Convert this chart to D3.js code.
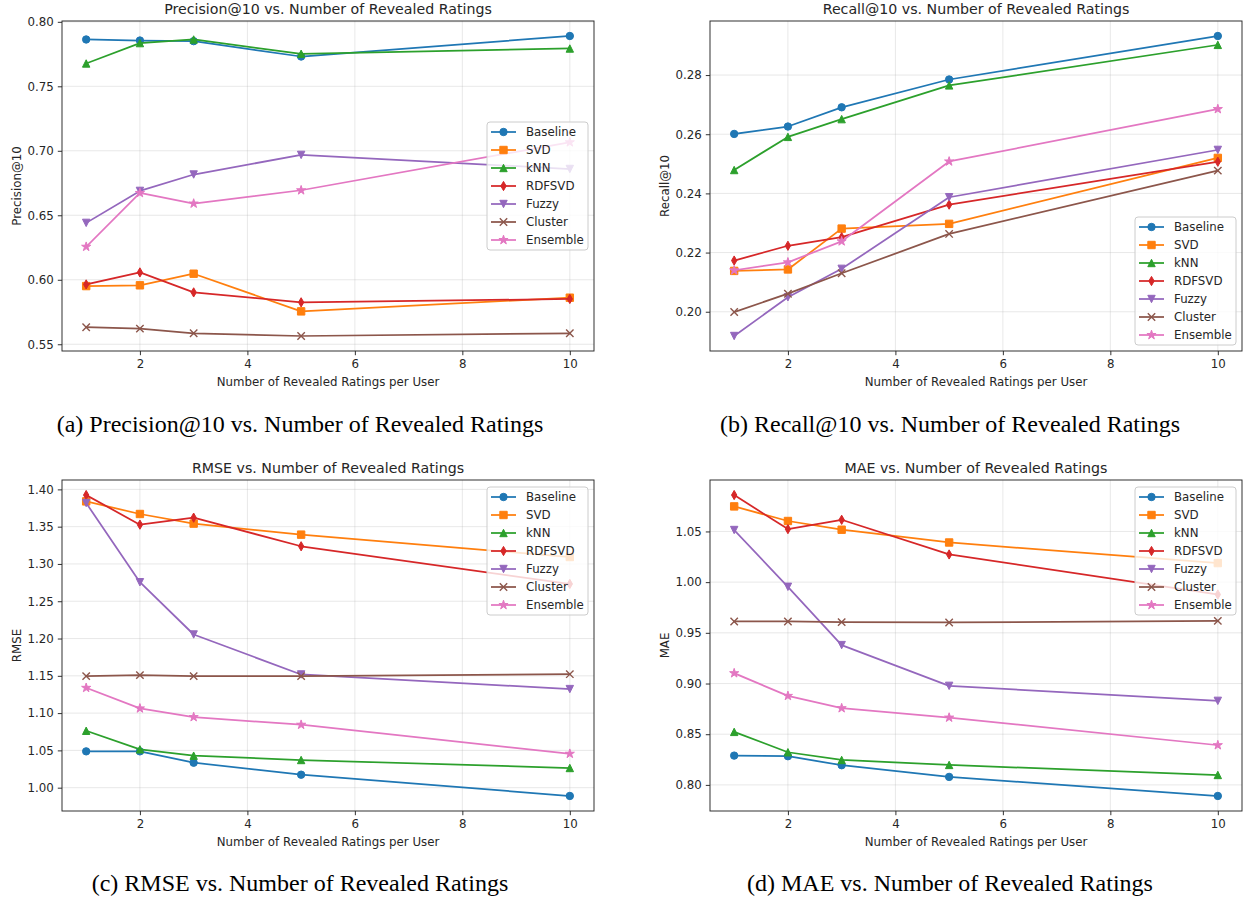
<!DOCTYPE html>
<html>
<head>
<meta charset="utf-8">
<script src="https://cdn.jsdelivr.net/npm/d3@7"></script>
<style>
  body { margin: 0; background: #fff; }
  svg { display: block; }
  text { font-family: "DejaVu Sans", sans-serif; fill: #262626; }
  .caption { font-family: "Liberation Serif", "Times New Roman", serif; fill: #000; }
</style>
</head>
<body>
<svg width="1248" height="898"></svg>
<script>
// data
const revealed = [1, 2, 3, 5, 10];
const methods = ["Baseline", "SVD", "kNN", "RDFSVD", "Fuzzy", "Cluster", "Ensemble"];
const colors = ["#1f77b4", "#ff7f0e", "#2ca02c", "#d62728", "#9467bd", "#8c564b", "#e377c2"];
const markers = ["circle", "square", "triUp", "thinDiamond", "triDown", "x", "star"];

// one row per method, same order as `methods`
const precisionValues = [
  [0.7863, 0.7855, 0.7850, 0.7731, 0.7890],
  [0.5951, 0.5957, 0.6047, 0.5755, 0.5861],
  [0.7677, 0.7835, 0.7863, 0.7752, 0.7793],
  [0.5964, 0.6057, 0.5902, 0.5825, 0.5851],
  [0.6441, 0.6689, 0.6816, 0.6968, 0.6859],
  [0.5632, 0.5621, 0.5585, 0.5564, 0.5585],
  [0.6256, 0.6673, 0.6591, 0.6694, 0.7066]
];
const recallValues = [
  [0.2601, 0.2626, 0.2691, 0.2785, 0.2932],
  [0.2138, 0.2143, 0.2281, 0.2297, 0.2520],
  [0.2479, 0.2591, 0.2651, 0.2765, 0.2902],
  [0.2173, 0.2223, 0.2252, 0.2362, 0.2507],
  [0.1918, 0.2049, 0.2145, 0.2387, 0.2547],
  [0.1999, 0.2061, 0.2130, 0.2263, 0.2477],
  [0.2140, 0.2167, 0.2238, 0.2508, 0.2685]
];
const rmseValues = [
  [1.0487, 1.0487, 1.0335, 1.0174, 0.9889],
  [1.3839, 1.3670, 1.3541, 1.3393, 1.3093],
  [1.0763, 1.0514, 1.0429, 1.0371, 1.0264],
  [1.3924, 1.3527, 1.3621, 1.3237, 1.2732],
  [1.3817, 1.2755, 1.2054, 1.1518, 1.1322],
  [1.1496, 1.1509, 1.1496, 1.1496, 1.1522],
  [1.1339, 1.1063, 1.0947, 1.0844, 1.0455]
];
const maeValues = [
  [0.8289, 0.8283, 0.8194, 0.8079, 0.7891],
  [1.0747, 1.0603, 1.0517, 1.0391, 1.0188],
  [0.8523, 0.8322, 0.8246, 0.8197, 0.8098],
  [1.0859, 1.0523, 1.0615, 1.0273, 0.9878],
  [1.0514, 0.9954, 0.9379, 0.8977, 0.8829],
  [0.9612, 0.9612, 0.9606, 0.9602, 0.9618],
  [0.9102, 0.8878, 0.8757, 0.8664, 0.8392]
];

const xTicks = [2, 4, 6, 8, 10];
const precisionTicks = [0.55, 0.60, 0.65, 0.70, 0.75, 0.80];
const recallTicks = [0.20, 0.22, 0.24, 0.26, 0.28];
const rmseTicks = [1.00, 1.05, 1.10, 1.15, 1.20, 1.25, 1.30, 1.35, 1.40];
const maeTicks = [0.80, 0.85, 0.90, 0.95, 1.00, 1.05];

const titles = [
  "Precision@10 vs. Number of Revealed Ratings",
  "Recall@10 vs. Number of Revealed Ratings",
  "RMSE vs. Number of Revealed Ratings",
  "MAE vs. Number of Revealed Ratings"
];
const yLabels = ["Precision@10", "Recall@10", "RMSE", "MAE"];
const captions = [
  "(a) Precision@10 vs. Number of Revealed Ratings",
  "(b) Recall@10 vs. Number of Revealed Ratings",
  "(c) RMSE vs. Number of Revealed Ratings",
  "(d) MAE vs. Number of Revealed Ratings"
];
const xLabel = "Number of Revealed Ratings per User";

// layout
const panels = [
  { values: precisionValues, ticks: precisionTicks, left: 62, right: 594, top: 21, bottom: 351, legend: "right", capX: 300, capY: 432 },
  { values: recallValues, ticks: recallTicks, left: 710, right: 1242, top: 21, bottom: 351, legend: "lower right", capX: 950, capY: 432 },
  { values: rmseValues, ticks: rmseTicks, left: 62, right: 594, top: 480, bottom: 811, legend: "upper right", capX: 300, capY: 891 },
  { values: maeValues, ticks: maeTicks, left: 710, right: 1242, top: 480, bottom: 811, legend: "upper right", capX: 950, capY: 891 }
];

const svg = d3.select("svg");

// marker shapes (matplotlib-like)
const markerSize = 7.4;
function markerPath(kind) {
  const r = markerSize / 2;
  switch (kind) {
    case "circle": return d3.symbol(d3.symbolCircle, Math.PI * r * r)();
    case "square": return `M${-r},${-r}H${r}V${r}H${-r}Z`;
    case "triUp": return `M0,${-r}L${r},${r}L${-r},${r}Z`;
    case "triDown": return `M0,${r}L${r},${-r}L${-r},${-r}Z`;
    case "thinDiamond": return `M0,${-r * 1.25}L${r * 0.72},0L0,${r * 1.25}L${-r * 0.72},0Z`;
    case "x": return `M${-r},${-r}L${r},${r}M${-r},${r}L${r},${-r}`;
    case "star": return d3.symbol(d3.symbolStar, 26)();
  }
}

function drawMarker(g, kind, color, x, y) {
  const p = g.append("path")
    .attr("d", markerPath(kind))
    .attr("transform", `translate(${x},${y})`);
  if (kind === "x") {
    p.attr("fill", "none").attr("stroke", color).attr("stroke-width", 1.4);
  } else {
    p.attr("fill", color).attr("stroke", color).attr("stroke-width", 1);
  }
}

panels.forEach(function(pn, pi) {
  const g = svg.append("g");
  const allVals = pn.values.flat();
  const lo = d3.min(allVals), hi = d3.max(allVals);
  const pad = (hi - lo) * 0.05;

  const x = d3.scaleLinear().domain([0.55, 10.45]).range([pn.left, pn.right]);
  const y = d3.scaleLinear().domain([lo - pad, hi + pad]).range([pn.bottom, pn.top]);

  // grid
  g.append("g").selectAll("line").data(xTicks).join("line")
    .attr("x1", d => x(d)).attr("x2", d => x(d))
    .attr("y1", pn.top).attr("y2", pn.bottom)
    .attr("stroke", "#b0b0b0").attr("stroke-opacity", 0.3).attr("stroke-width", 0.95);
  g.append("g").selectAll("line").data(pn.ticks).join("line")
    .attr("x1", pn.left).attr("x2", pn.right)
    .attr("y1", d => y(d)).attr("y2", d => y(d))
    .attr("stroke", "#b0b0b0").attr("stroke-opacity", 0.3).attr("stroke-width", 0.95);

  // axes
  const xAxis = d3.axisBottom(x).tickValues(xTicks).tickSize(4.2).tickPadding(4).tickFormat(d3.format("d"));
  const yAxis = d3.axisLeft(y).tickValues(pn.ticks).tickSize(4.2).tickPadding(4).tickFormat(d3.format(".2f"));
  const gx = g.append("g").attr("transform", `translate(0,${pn.bottom})`).call(xAxis);
  const gy = g.append("g").attr("transform", `translate(${pn.left},0)`).call(yAxis);
  [gx, gy].forEach(function(ax) {
    ax.select(".domain").remove();
    ax.selectAll(".tick line").attr("stroke", "#262626").attr("stroke-width", 0.95);
    ax.selectAll(".tick text").attr("font-size", 11.8).attr("fill", "#262626")
      .style("font-family", "'DejaVu Sans', sans-serif");
  });

  // lines + markers
  methods.forEach(function(m, mi) {
    const pts = revealed.map((xv, i) => [x(xv), y(pn.values[mi][i])]);
    g.append("path")
      .attr("d", d3.line()(pts))
      .attr("fill", "none")
      .attr("stroke", colors[mi])
      .attr("stroke-width", 1.75)
      .attr("stroke-linejoin", "round")
      .attr("stroke-linecap", "square");
    const mg = g.append("g");
    pts.forEach(p => drawMarker(mg, markers[mi], colors[mi], p[0], p[1]));
  });

  // frame
  g.append("rect")
    .attr("x", pn.left).attr("y", pn.top)
    .attr("width", pn.right - pn.left).attr("height", pn.bottom - pn.top)
    .attr("fill", "none").attr("stroke", "#262626").attr("stroke-width", 0.95);

  // title and labels
  g.append("text")
    .attr("x", (pn.left + pn.right) / 2).attr("y", pn.top - 7)
    .attr("text-anchor", "middle").attr("font-size", 14.2)
    .text(titles[pi]);
  g.append("text")
    .attr("x", (pn.left + pn.right) / 2).attr("y", pn.bottom + 35)
    .attr("text-anchor", "middle").attr("font-size", 11.8)
    .text(xLabel);
  g.append("text")
    .attr("transform", `translate(${pn.left - 41},${(pn.top + pn.bottom) / 2}) rotate(-90)`)
    .attr("text-anchor", "middle").attr("font-size", 11.8)
    .text(yLabels[pi]);

  // legend
  const lw = 101, lh = 128, rowH = 18;
  let lx = pn.right - 6 - lw, ly;
  if (pn.legend === "upper right") ly = pn.top + 7;
  else if (pn.legend === "lower right") ly = pn.bottom - 6 - lh;
  else ly = (pn.top + pn.bottom) / 2 - lh / 2;
  const lg = g.append("g").attr("transform", `translate(${lx},${ly})`);
  lg.append("rect")
    .attr("width", lw).attr("height", lh).attr("rx", 3)
    .attr("fill", "#fff").attr("fill-opacity", 0.8)
    .attr("stroke", "#cccccc").attr("stroke-width", 1);
  methods.forEach(function(m, mi) {
    const cy = 10 + mi * rowH;
    lg.append("line")
      .attr("x1", 4).attr("x2", 29).attr("y1", cy).attr("y2", cy)
      .attr("stroke", colors[mi]).attr("stroke-width", 1.75);
    drawMarker(lg, markers[mi], colors[mi], 16.5, cy);
    lg.append("text")
      .attr("x", 39).attr("y", cy).attr("dy", "0.36em")
      .attr("font-size", 11.8)
      .text(m);
  });

  // caption
  svg.append("text")
    .attr("class", "caption")
    .attr("x", pn.capX).attr("y", pn.capY)
    .attr("text-anchor", "middle")
    .attr("font-size", 24)
    .text(captions[pi]);
});
</script>
</body>
</html>
